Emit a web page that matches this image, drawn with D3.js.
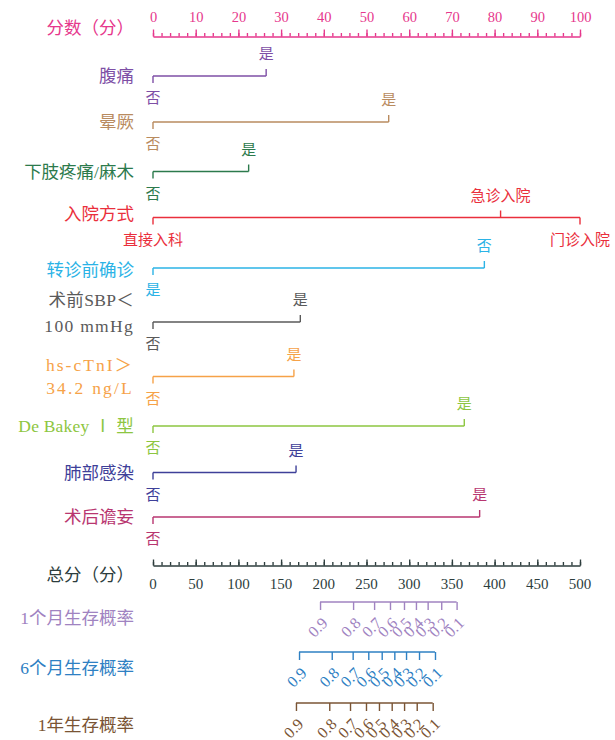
<!DOCTYPE html>
<html>
<head>
<meta charset="utf-8">
<script src="https://cdn.jsdelivr.net/npm/d3@7"></script>
<style>
  body { margin: 0; background: #fff; }
  svg text { font-family: "Liberation Serif", "Noto Sans CJK SC", serif; }
</style>
</head>
<body>
<svg id="chart" width="615" height="740"></svg>
<script>
// ---- data ----
const pointTicks = d3.range(0, 101, 10);
const pointMinorTicks = d3.range(0, 101, 2);
const totalTicks = d3.range(0, 501, 50);
const totalMinorTicks = d3.range(0, 501, 10);

const variableNames = [
  ["腹痛"], ["晕厥"], ["下肢疼痛/麻木"], ["入院方式"], ["转诊前确诊"],
  ["术前SBP＜", "100 mmHg"], ["hs-cTnI＞", "34.2 ng/L"], ["De Bakey Ⅰ 型"],
  ["肺部感染"], ["术后谵妄"]
];
const levelLabels = [
  ["否", "是"], ["否", "是"], ["否", "是"], ["直接入科", "急诊入院", "门诊入院"],
  ["是", "否"], ["否", "是"], ["否", "是"], ["否", "是"], ["否", "是"], ["否", "是"]
];
const levelPoints = [
  [0, 26.5], [0, 55.2], [0, 22.4], [0, 81.4, 100], [0, 77.6],
  [0, 34.5], [0, 33.0], [0, 72.9], [0, 33.5], [0, 76.5]
];

const survivalNames = ["1个月生存概率", "6个月生存概率", "1年生存概率"];
const survivalLabels = ["0.9", "0.8", "0.7", "0.6", "0.5", "0.4", "0.3", "0.2", "0.1"];
const survival1m = [195.6, 234.3, 258.9, 277.5, 293.9, 307.9, 321.6, 337.5, 355.5];
const survival6m = [171.0, 209.3, 233.8, 252.1, 267.8, 282.6, 296.3, 311.5, 330.2];
const survival1y = [167.4, 206.4, 230.7, 249.4, 264.6, 279.5, 294.0, 308.8, 327.5];
const survivalTotals = [survival1m, survival6m, survival1y];

// ---- styling & layout ----
const pointsColor = "#e6378c";
const totalColor = "#2d3d3d";
const variableColors = ["#7e4fa6", "#b98b5f", "#2c7a4c", "#ea2f3c", "#2bb3e6",
                        "#5a5a5a", "#f6a248", "#8dc641", "#3e4099", "#b83670"];
const survivalColors = ["#a083c1", "#2e80c3", "#7a5434"];

const labelRight = 134;
const pointsY = 36.5;
const rowY = [76, 122, 171.5, 217.5, 268, 322, 376.5, 426, 472.5, 517];
const nameOffsets = [[0], [0], [0], [-4], [2], [-22, 4], [-12, 11], [0], [0], [0]];
const nameSpacing = [[0], [0], [0], [0], [0], [0.3, 1.3], [2, 2.2], [0.2], [0], [0]];
const totalY = 565.5;
const survivalY = [602, 652, 703];
const survivalNameDy = [16, 16, 22];

const svg = d3.select("#chart");
const xPoints = d3.scaleLinear().domain([0, 100]).range([153, 580]);
const xTotal = d3.scaleLinear().domain([0, 500]).range([153, 580]);

function styleAxis(g, color, width) {
  g.selectAll("path.domain").attr("stroke", color).attr("stroke-width", width);
  g.selectAll(".tick line").attr("stroke", color).attr("stroke-width", width * 0.8);
  g.selectAll("text").attr("fill", color);
}

// ---- points axis ----
const pMinor = svg.append("g").attr("transform", `translate(0,${pointsY})`)
  .call(d3.axisTop(xPoints).tickValues(pointMinorTicks).tickSize(3.5).tickSizeOuter(0).tickFormat(""));
styleAxis(pMinor, pointsColor, 1.7);
const pMajor = svg.append("g").attr("transform", `translate(0,${pointsY})`)
  .call(d3.axisTop(xPoints).tickValues(pointTicks).tickSize(7).tickSizeOuter(0).tickPadding(8));
styleAxis(pMajor, pointsColor, 1.7);
pMajor.select("path.domain").remove();
pMajor.selectAll("text").attr("font-size", 14.5);

svg.append("text").attr("x", labelRight).attr("y", 28).attr("dy", "0.35em")
  .attr("text-anchor", "end").attr("font-size", 17.5).attr("fill", pointsColor)
  .text("分数（分）");

// ---- variable rows ----
variableNames.forEach((name, i) => {
  const color = variableColors[i];
  const y = rowY[i];
  const g = svg.append("g");
  const pts = levelPoints[i];
  const order = d3.range(pts.length).sort((a, b) => pts[a] - pts[b]);

  g.append("line")
    .attr("x1", xPoints(d3.min(pts))).attr("x2", xPoints(d3.max(pts)))
    .attr("y1", y).attr("y2", y)
    .attr("stroke", color).attr("stroke-width", 1.6);

  order.forEach((li, k) => {
    const above = k % 2 === 1;
    const x = xPoints(pts[li]);
    g.append("line")
      .attr("x1", x).attr("x2", x)
      .attr("y1", y).attr("y2", above ? y - 7 : y + 7)
      .attr("stroke", color).attr("stroke-width", 1.4);
    g.append("text")
      .attr("x", x).attr("y", above ? y - 22 : y + 22).attr("dy", "0.35em")
      .attr("text-anchor", "middle").attr("font-size", 15).attr("fill", color)
      .text(levelLabels[i][li]);
  });

  name.forEach((line, j) => {
    g.append("text")
      .attr("x", labelRight).attr("y", y + nameOffsets[i][j]).attr("dy", "0.35em")
      .attr("text-anchor", "end").attr("font-size", 17.5).attr("fill", color)
      .attr("letter-spacing", nameSpacing[i][j])
      .text(line);
  });
});

// ---- total points axis ----
const tMinor = svg.append("g").attr("transform", `translate(0,${totalY})`)
  .call(d3.axisTop(xTotal).tickValues(totalMinorTicks).tickSize(3.5).tickSizeOuter(0).tickFormat(""));
styleAxis(tMinor, totalColor, 1.7);
const tMajor = svg.append("g").attr("transform", `translate(0,${totalY})`)
  .call(d3.axisTop(xTotal).tickValues(totalTicks).tickSize(6).tickSizeOuter(0).tickFormat(""));
styleAxis(tMajor, totalColor, 1.7);
tMajor.select("path.domain").remove();

svg.append("g").selectAll("text").data(totalTicks).join("text")
  .attr("x", d => xTotal(d)).attr("y", totalY + 18).attr("dy", "0.35em")
  .attr("text-anchor", "middle").attr("font-size", 15).attr("fill", totalColor)
  .text(d => d);

svg.append("text").attr("x", labelRight).attr("y", totalY + 9).attr("dy", "0.35em")
  .attr("text-anchor", "end").attr("font-size", 17.5).attr("fill", totalColor)
  .text("总分（分）");

// ---- survival probability axes ----
survivalNames.forEach((name, i) => {
  const color = survivalColors[i];
  const y = survivalY[i];
  const totals = survivalTotals[i];
  const g = svg.append("g").attr("transform", `translate(0,${y})`)
    .call(d3.axisBottom(xTotal).tickValues(totals).tickSize(8).tickSizeOuter(0)
      .tickFormat((d, k) => survivalLabels[k]));
  g.select("path.domain").remove();
  g.append("line")
    .attr("x1", xTotal(d3.min(totals))).attr("x2", xTotal(d3.max(totals)))
    .attr("y1", 0).attr("y2", 0)
    .attr("stroke", color).attr("stroke-width", 1.6);
  g.selectAll(".tick line").attr("stroke", color).attr("stroke-width", 1.4);
  g.selectAll(".tick text")
    .attr("fill", color).attr("font-size", 16)
    .attr("text-anchor", "end")
    .attr("y", 0).attr("dy", 0)
    .attr("transform", "translate(8,22) rotate(-45)");

  svg.append("text").attr("x", labelRight).attr("y", y + survivalNameDy[i]).attr("dy", "0.35em")
    .attr("text-anchor", "end").attr("font-size", 17.5).attr("fill", color)
    .text(name);
});
</script>
</body>
</html>
